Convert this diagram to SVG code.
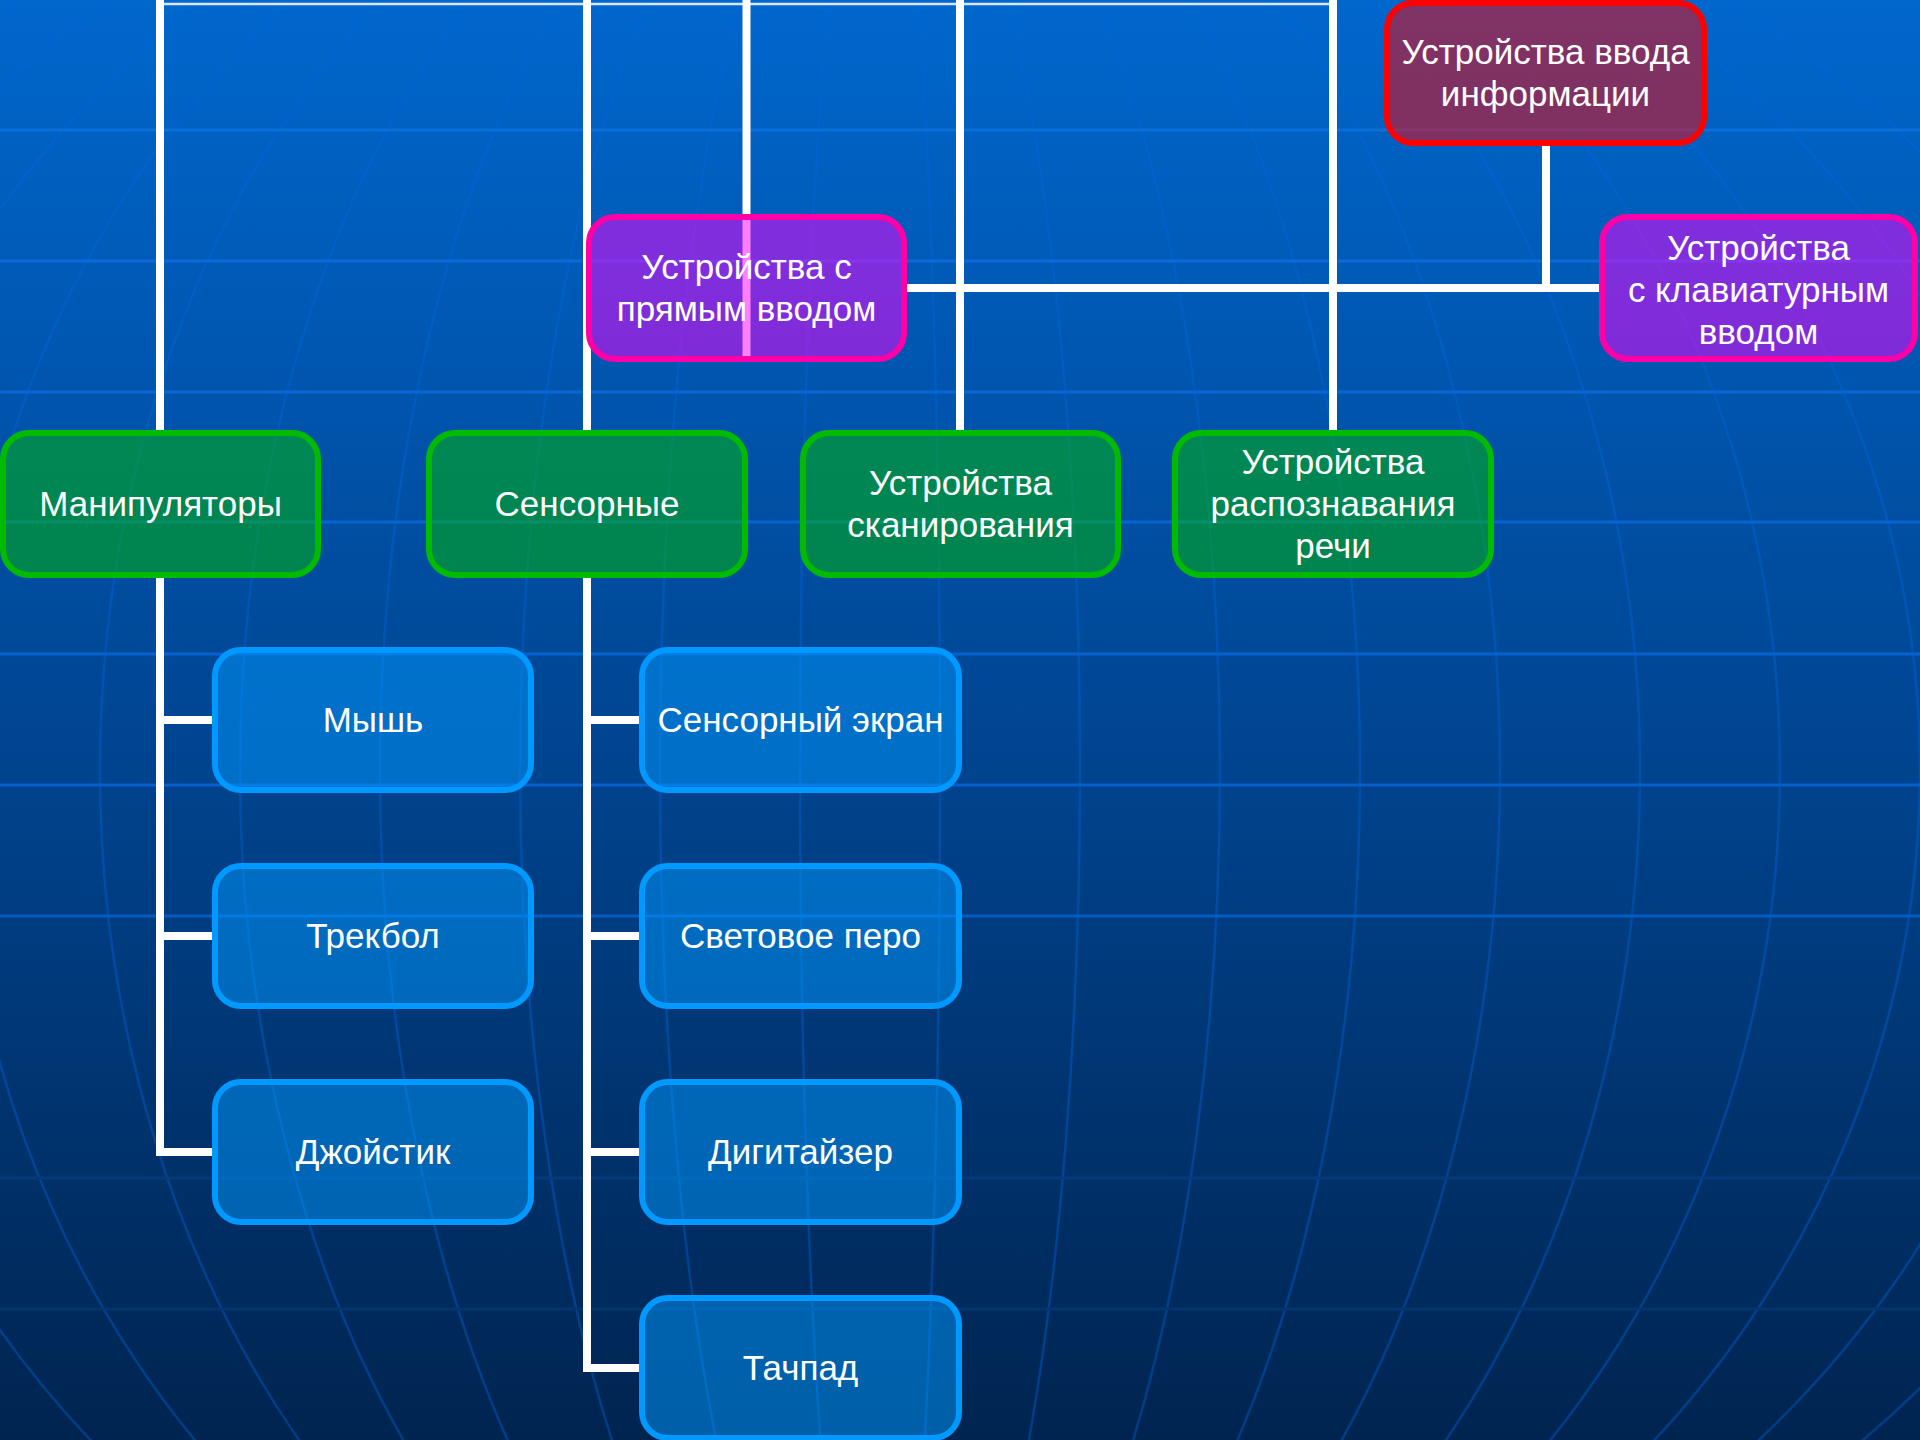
<svg xmlns="http://www.w3.org/2000/svg" width="1920" height="1440" viewBox="0 0 1920 1440">
<defs>
<linearGradient id="bg" x1="0" y1="0" x2="0" y2="1">
<stop offset="0" stop-color="#0067cd"/>
<stop offset="0.5" stop-color="#004693"/>
<stop offset="1" stop-color="#002450"/>
</linearGradient>
<style>
.hl{stroke-width:3;fill:none}
.mer{fill:none;stroke:#0066dd;stroke-opacity:0.38;stroke-width:2.5}
.conn{stroke:#ffffff;stroke-width:8;fill:none;stroke-linecap:butt;stroke-linejoin:miter}
.box{stroke-width:6}
.green{fill:#00bb00;fill-opacity:0.5;stroke:#00bb00}
.blue{fill:#0099ff;fill-opacity:0.5;stroke:#0099ff}
.purple{fill:#ff00ff;fill-opacity:0.5;stroke:#ff00a8}
.red{fill:#ff0000;fill-opacity:0.5;stroke:#ff0000}
.t{font-family:"Liberation Sans",Arial,sans-serif;font-size:35px;fill:#ffffff;text-anchor:middle}
</style>
</defs>
<g id="background">
<rect x="0" y="0" width="1920" height="1440" fill="url(#bg)"/>
<g id="meridians">
<path class="mer" d="M880,-234 A1340,1004 0 0 0 880,1774"/>
<path class="mer" d="M880,-234 A1200,1004 0 0 0 880,1774"/>
<path class="mer" d="M880,-234 A1060,1004 0 0 0 880,1774"/>
<path class="mer" d="M880,-234 A920,1004 0 0 0 880,1774"/>
<path class="mer" d="M880,-234 A780,1004 0 0 0 880,1774"/>
<path class="mer" d="M880,-234 A640,1004 0 0 0 880,1774"/>
<path class="mer" d="M880,-234 A500,1004 0 0 0 880,1774"/>
<path class="mer" d="M880,-234 A360,1004 0 0 0 880,1774"/>
<path class="mer" d="M880,-234 A220,1004 0 0 0 880,1774"/>
<path class="mer" d="M880,-234 A80,1004 0 0 0 880,1774"/>
<path class="mer" d="M880,-234 A60,1004 0 0 1 880,1774"/>
<path class="mer" d="M880,-234 A200,1004 0 0 1 880,1774"/>
<path class="mer" d="M880,-234 A340,1004 0 0 1 880,1774"/>
<path class="mer" d="M880,-234 A480,1004 0 0 1 880,1774"/>
<path class="mer" d="M880,-234 A620,1004 0 0 1 880,1774"/>
<path class="mer" d="M880,-234 A760,1004 0 0 1 880,1774"/>
<path class="mer" d="M880,-234 A900,1004 0 0 1 880,1774"/>
<path class="mer" d="M880,-234 A1040,1004 0 0 1 880,1774"/>
<path class="mer" d="M880,-234 A1180,1004 0 0 1 880,1774"/>
<path class="mer" d="M880,-234 A1320,1004 0 0 1 880,1774"/>
</g>
<g id="gridlines">
<line class="hl" x1="0" y1="130" x2="1920" y2="130" stroke="#0b6fda"/>
<line class="hl" x1="0" y1="261" x2="1920" y2="261" stroke="#0a6bd8"/>
<line class="hl" x1="0" y1="392" x2="1920" y2="392" stroke="#0967d4"/>
<line class="hl" x1="0" y1="522" x2="1920" y2="522" stroke="#0864d2"/>
<line class="hl" x1="0" y1="654" x2="1920" y2="654" stroke="#0762d0"/>
<line class="hl" x1="0" y1="785" x2="1920" y2="785" stroke="#065fcc"/>
<line class="hl" x1="0" y1="916" x2="1920" y2="916" stroke="#055bc6"/>
<line class="hl" x1="0" y1="1178" x2="1920" y2="1178" stroke="#043a7c"/>
<line class="hl" x1="0" y1="1309" x2="1920" y2="1309" stroke="#03356f"/>
</g>
</g>
<g id="connectors">
<line x1="156" y1="4" x2="1337" y2="4" stroke="#d8e8f8" stroke-width="2.5"/>
<path class="conn" d="M160,0 V433"/>
<path class="conn" d="M587,0 V433"/>
<path class="conn" d="M746.5,0 V359"/>
<path class="conn" d="M960,0 V433"/>
<path class="conn" d="M1333,0 V433"/>
<path class="conn" d="M904,288 H1602"/>
<path class="conn" d="M1546,146 V288"/>
<path class="conn" d="M160,574 V1152 H215"/>
<path class="conn" d="M160,720 H215"/>
<path class="conn" d="M160,936 H215"/>
<path class="conn" d="M587,574 V1368 H642"/>
<path class="conn" d="M587,720 H642"/>
<path class="conn" d="M587,936 H642"/>
<path class="conn" d="M587,1152 H642"/>
</g>
<g id="node-input">
<rect class="box red" x="1387" y="3" width="317" height="140" rx="26"/>
<text class="t" x="1545.5" y="64">Устройства ввода</text>
<text class="t" x="1545.5" y="106">информации</text>
</g>
<g id="node-direct">
<rect class="box purple" x="589" y="217" width="315" height="142" rx="26"/>
<text class="t" x="746.5" y="279">Устройства с</text>
<text class="t" x="746.5" y="321">прямым вводом</text>
</g>
<g id="node-keyboard">
<rect class="box purple" x="1602" y="217" width="313" height="142" rx="26"/>
<text class="t" x="1758.5" y="260">Устройства</text>
<text class="t" x="1758.5" y="302">с клавиатурным</text>
<text class="t" x="1758.5" y="344">вводом</text>
</g>
<g id="node-manip">
<rect class="box green" x="3" y="433" width="315" height="142" rx="26"/>
<text class="t" x="160.5" y="516">Манипуляторы</text>
</g>
<g id="node-sensor">
<rect class="box green" x="429" y="433" width="316" height="142" rx="26"/>
<text class="t" x="587" y="516">Сенсорные</text>
</g>
<g id="node-scan">
<rect class="box green" x="803" y="433" width="315" height="142" rx="26"/>
<text class="t" x="960.5" y="495">Устройства</text>
<text class="t" x="960.5" y="537">сканирования</text>
</g>
<g id="node-speech">
<rect class="box green" x="1175" y="433" width="316" height="142" rx="26"/>
<text class="t" x="1333" y="474">Устройства</text>
<text class="t" x="1333" y="516">распознавания</text>
<text class="t" x="1333" y="558">речи</text>
</g>
<g id="node-mouse">
<rect class="box blue" x="215" y="650" width="316" height="140" rx="26"/>
<text class="t" x="373" y="732">Мышь</text>
</g>
<g id="node-trackball">
<rect class="box blue" x="215" y="866" width="316" height="140" rx="26"/>
<text class="t" x="373" y="948">Трекбол</text>
</g>
<g id="node-joystick">
<rect class="box blue" x="215" y="1082" width="316" height="140" rx="26"/>
<text class="t" x="373" y="1164">Джойстик</text>
</g>
<g id="node-touchscreen">
<rect class="box blue" x="642" y="650" width="317" height="140" rx="26"/>
<text class="t" x="800.5" y="732">Сенсорный экран</text>
</g>
<g id="node-lightpen">
<rect class="box blue" x="642" y="866" width="317" height="140" rx="26"/>
<text class="t" x="800.5" y="948">Световое перо</text>
</g>
<g id="node-digitizer">
<rect class="box blue" x="642" y="1082" width="317" height="140" rx="26"/>
<text class="t" x="800.5" y="1164">Дигитайзер</text>
</g>
<g id="node-touchpad">
<rect class="box blue" x="642" y="1298" width="317" height="140" rx="26"/>
<text class="t" x="800.5" y="1380">Тачпад</text>
</g>
</svg>
